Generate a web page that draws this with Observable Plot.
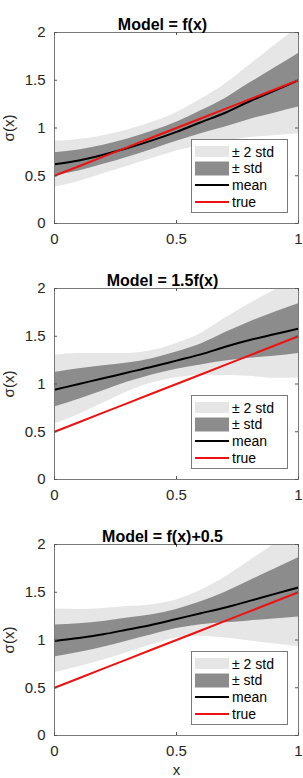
<!DOCTYPE html>
<html>
<head>
<meta charset="utf-8">
<script src="https://cdn.jsdelivr.net/npm/d3@7"></script>
<script src="https://cdn.jsdelivr.net/npm/@observablehq/plot@0.6"></script>
<style>
  html, body { margin: 0; padding: 0; background: #fff; }
  #chart { width: 303px; height: 778px; position: relative; overflow: hidden; }
  #chart svg { display: block; }
</style>
</head>
<body>
<div id="chart"></div>
<script>
// ---- data ----
const xs = [0, 0.1, 0.2, 0.3, 0.4, 0.5, 0.6, 0.7, 0.8, 0.9, 1.0];
const trueVals = [0.5, 0.6, 0.7, 0.8, 0.9, 1.0, 1.1, 1.2, 1.3, 1.4, 1.5];

const mean1 = [0.62, 0.66, 0.72, 0.79, 0.87, 0.96, 1.06, 1.16, 1.28, 1.39, 1.50];
const std1  = [0.12, 0.11, 0.10, 0.095, 0.095, 0.10, 0.12, 0.15, 0.19, 0.235, 0.28];

const mean2 = [0.94, 1.00, 1.06, 1.12, 1.18, 1.245, 1.31, 1.39, 1.46, 1.52, 1.58];
const std2  = [0.18, 0.16, 0.13, 0.10, 0.085, 0.09, 0.11, 0.15, 0.19, 0.23, 0.26];

const mean3 = [0.99, 1.02, 1.06, 1.11, 1.16, 1.22, 1.28, 1.34, 1.41, 1.48, 1.55];
const std3  = [0.167, 0.15, 0.135, 0.12, 0.105, 0.10, 0.12, 0.16, 0.21, 0.26, 0.31];

const titles = ["Model = f(x)", "Model = 1.5f(x)", "Model = f(x)+0.5"];
const xTicks = [0, 0.5, 1];
const yTicks = [0, 0.5, 1, 1.5, 2];
const legendLabels = ["\u00B1 2 std", "\u00B1 std", "mean", "true"];
const yLabel = "\u03C3(x)";
const xLabel = "x";

// ---- style ----
const FONT = "'Liberation Sans', Arial, Helvetica, sans-serif";
const AXIS_COLOR = "#262626";
const LIGHT = "#e6e6e6";
const DARK = "#8c8c8c";
const RED = "#ee1111";
const fmt = d => String(d);

const panels = [
  {title: titles[0], mean: mean1, std: std1},
  {title: titles[1], mean: mean2, std: std2},
  {title: titles[2], mean: mean3, std: std3}
];

const W = 303, ML = 54, MR = 5, MT = 32;
const container = document.getElementById("chart");

panels.forEach((p, i) => {
  const last = i === panels.length - 1;
  const MB = last ? 43 : 33;
  const H = last ? 266 : 256;
  const rows = xs.map((x, j) => ({
    x, mean: p.mean[j], std: p.std[j], tru: trueVals[j],
    lo1: p.mean[j] - p.std[j], hi1: p.mean[j] + p.std[j],
    lo2: p.mean[j] - 2 * p.std[j], hi2: p.mean[j] + 2 * p.std[j]
  }));
  const frameH = H - MT - MB;

  const plot = Plot.plot({
    width: W, height: H,
    marginLeft: ML, marginRight: MR, marginTop: MT, marginBottom: MB,
    style: {fontFamily: FONT, fontSize: "15px", color: AXIS_COLOR, background: "#fff", overflow: "visible"},
    x: {domain: [0, 1]},
    y: {domain: [0, 2]},
    marks: [
      Plot.areaY(rows, {x: "x", y1: "lo2", y2: "hi2", fill: LIGHT, curve: "monotone-x", clip: true}),
      Plot.areaY(rows, {x: "x", y1: "lo1", y2: "hi1", fill: DARK, curve: "monotone-x", clip: true}),
      Plot.lineY(rows, {x: "x", y: "mean", stroke: "#000", strokeWidth: 2, curve: "monotone-x", clip: true}),
      Plot.lineY(rows, {x: "x", y: "tru", stroke: RED, strokeWidth: 2, clip: true}),
      Plot.frame({stroke: "#7a7a7a", strokeWidth: 1}),
      Plot.tickX(xTicks, {x: d => d, stroke: "#555", insetTop: frameH - 3}),
      Plot.tickX(xTicks, {x: d => d, stroke: "#555", insetBottom: frameH - 3}),
      Plot.tickY(yTicks, {y: d => d, stroke: "#555", insetRight: W - ML - MR - 3}),
      Plot.tickY(yTicks, {y: d => d, stroke: "#555", insetLeft: W - ML - MR - 3}),
      Plot.axisX({ticks: xTicks, tickFormat: fmt, tickSize: 0, tickPadding: 10, fontSize: 15,
        label: last ? xLabel : null, labelAnchor: "center", labelArrow: "none", labelOffset: 39}),
      Plot.axisY({ticks: yTicks, tickFormat: fmt, tickSize: 0, tickPadding: 9, fontSize: 15,
        label: yLabel, labelAnchor: "center", labelArrow: "none", labelOffset: 51}),
      Plot.text([p.title], {frameAnchor: "top", dx: -14, dy: -14, text: d => d,
        fontSize: 16, fontWeight: "bold", fill: "#000"})
    ]
  });

  // legend (layout in pixels inside the frame, bottom-right)
  const svg = d3.select(plot);
  const fr = W - MR;          // frame right
  const fb = H - MB;          // frame bottom
  const bx0 = fr - 107, bx1 = fr - 11, by1 = fb - 11, by0 = by1 - 73;
  const g = svg.append("g").attr("font-family", FONT).attr("font-size", 14).attr("text-anchor", "start");
  g.append("rect").attr("x", bx0 + 0.5).attr("y", by0 + 0.5)
    .attr("width", bx1 - bx0).attr("height", by1 - by0)
    .attr("fill", "#fff").attr("stroke", "#7a7a7a");
  const sx0 = bx0 + 4, sx1 = bx0 + 38, tx = bx0 + 41;
  const rowY = [by0 + 13, by0 + 29.5, by0 + 46, by0 + 63];
  g.append("rect").attr("x", sx0).attr("y", rowY[0] - 6).attr("width", sx1 - sx0).attr("height", 11).attr("fill", LIGHT);
  g.append("rect").attr("x", sx0).attr("y", rowY[1] - 7).attr("width", sx1 - sx0).attr("height", 14).attr("fill", DARK);
  g.append("line").attr("x1", sx0).attr("x2", sx1).attr("y1", rowY[2]).attr("y2", rowY[2]).attr("stroke", "#000").attr("stroke-width", 2);
  g.append("line").attr("x1", sx0).attr("x2", sx1).attr("y1", rowY[3]).attr("y2", rowY[3]).attr("stroke", RED).attr("stroke-width", 2);
  legendLabels.forEach((t, k) => {
    g.append("text").attr("x", tx).attr("y", rowY[k]).attr("dy", "0.35em")
      .attr("text-anchor", "start").attr("fill", "#000").text(t);
  });

  container.appendChild(plot);
});
</script>
</body>
</html>
